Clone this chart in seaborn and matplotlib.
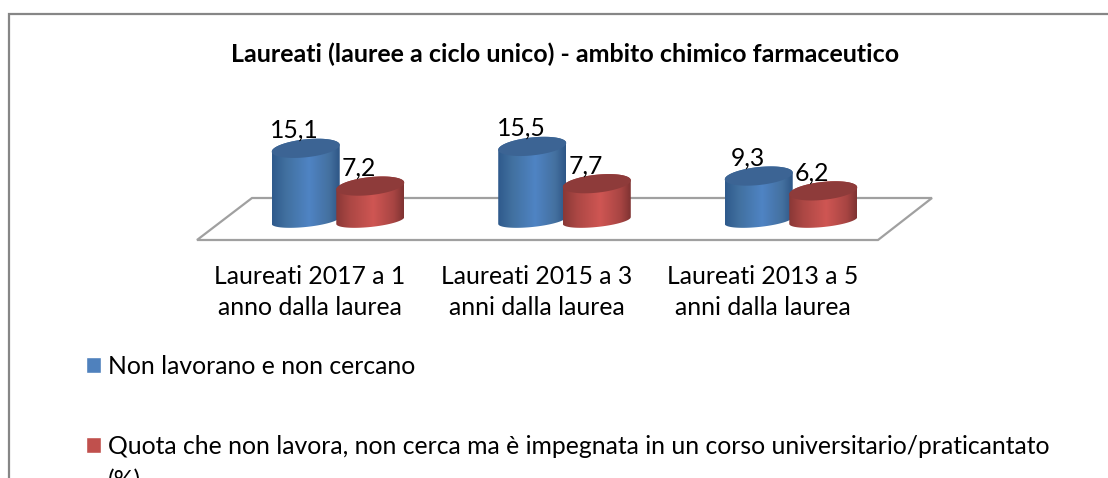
import numpy as np
import pandas as pd
import seaborn as sns
import matplotlib
matplotlib.use('Agg')
import matplotlib.pyplot as plt
from matplotlib.colors import LinearSegmentedColormap
from matplotlib.lines import Line2D
from matplotlib.patches import Polygon

title = 'Laureati (lauree a ciclo unico) - ambito chimico farmaceutico'
categories = ['Laureati 2017 a 1\nanno dalla laurea',
              'Laureati 2015 a 3\nanni dalla laurea',
              'Laureati 2013 a 5\nanni dalla laurea']
series_names = ['Non lavorano e non cercano',
                'Quota che non lavora, non cerca ma è impegnata in un corso universitario/praticantato']
non_lavorano = [15.1, 15.5, 9.3]
quota_corso = [7.2, 7.7, 6.2]
legend_colors = ['#4f81bd', '#c0504d']

W, H = 1108, 478
PX_PER_CAT = 226.5
PX_PER_UNIT = 4.78
ZERO_X, ZERO_Y = 338, 220.5
FONT = 17.8

sns.set_theme(style='white')
plt.rcParams['font.family'] = ['Lato', 'DejaVu Sans']

df = pd.DataFrame({
    'categoria': categories * 2,
    'serie': [series_names[0]] * 3 + [series_names[1]] * 3,
    'valore': non_lavorano + quota_corso,
})


def fx(px):
    return px / W


def fy(py):
    return 1 - py / H


fig = plt.figure(figsize=(W / 100, H / 100), dpi=100)
# axes box is chosen so that value 0 and the categories land where the chart has them
left, right, top, bottom = 185, 950, 120, 245
ax = fig.add_axes([fx(left), fy(bottom), (right - left) / W, (bottom - top) / H])
sns.barplot(data=df, x='categoria', y='valore', hue='serie', saturation=1,
            palette=legend_colors, width=0.57, gap=0, ax=ax, errorbar=None)

xlim = ((left - ZERO_X) / PX_PER_CAT, (right - ZERO_X) / PX_PER_CAT)
ylim = ((ZERO_Y - bottom) / PX_PER_UNIT, (ZERO_Y - top) / PX_PER_UNIT)

# outer chart frame (only top and left are inside the crop) and floor of the 3d plot
fig.add_artist(Line2D([fx(9), fx(9), 1], [0, fy(14), fy(14)], transform=fig.transFigure,
                      color='#868686', lw=1.6, zorder=-2, solid_joinstyle='miter'))
floor = [(197, 240), (878, 240), (932, 198), (252, 198)]
fig.add_artist(Polygon([(fx(a), fy(b)) for a, b in floor], transform=fig.transFigure,
                       fill=False, ec='#a0a0a0', lw=1.6, zorder=-1))

shades = [
    (['#2f5a8c', '#41709f', '#4f84c4', '#44709f', '#2e5686'], '#3c6494'),
    (['#8a3836', '#ab4744', '#cf5653', '#a84543', '#7f3332'], '#8e3b3a'),
]
ry = 9 / PX_PER_UNIT
ry_base = 6.5 / PX_PER_UNIT
tilt = 3.4 / PX_PER_UNIT
arc = np.linspace(0, 2 * np.pi, 80)

for container, (body_cols, top_col) in zip(ax.containers, shades):
    cmap = LinearSegmentedColormap.from_list('cyl', [(0, body_cols[0]), (0.2, body_cols[1]),
                                                     (0.55, body_cols[2]), (0.85, body_cols[3]),
                                                     (1, body_cols[4])])
    for bar in container:
        bar.set_visible(False)
        cx = bar.get_x() + bar.get_width() / 2
        h = bar.get_height()
        rx = 34 / PX_PER_CAT

        # body: lower half of base ellipse, then back along the upper half of the top one
        t_low = np.linspace(np.pi, 2 * np.pi, 40)
        t_up = np.linspace(0, np.pi, 40)
        xs = np.r_[cx + rx * np.cos(t_low), cx + rx * np.cos(t_up)]
        ys = np.r_[ry_base * np.sin(t_low) + tilt * np.cos(t_low),
                   h + ry * np.sin(t_up) + tilt * np.cos(t_up)]
        body = Polygon(np.c_[xs, ys], closed=True, fc='none', ec='none',
                       transform=ax.transData, zorder=3)
        ax.add_patch(body)
        im = ax.imshow(np.linspace(0, 1, 128)[None, :], cmap=cmap, aspect='auto',
                       extent=[cx - rx, cx + rx, -5, h + 5], zorder=3)
        im.set_clip_path(body)

        cap_x = cx + rx * np.cos(arc)
        cap_y = h + ry * np.sin(arc) + tilt * np.cos(arc)
        ax.add_patch(Polygon(np.c_[cap_x, cap_y], closed=True, fc=top_col, ec='none', zorder=3))

        lab = f'{h:.1f}'.replace('.', ',')
        ax.annotate(lab, xy=(cx, h), xytext=(-11 * 0.72, 18 * 0.72), textcoords='offset points',
                    ha='center', va='center', fontsize=FONT, color='black',
                    annotation_clip=False, zorder=5)

ax.set_xlim(*xlim)
ax.set_ylim(*ylim)
ax.set_xticks(np.arange(len(categories)) - 28 / PX_PER_CAT)
ax.set_xticklabels(categories, fontsize=FONT, linespacing=1.42, color='black')
ax.tick_params(axis='x', length=0, pad=14.5)
ax.set_yticks([])
ax.set_xlabel('')
ax.set_ylabel('')
ax.patch.set_visible(False)
sns.despine(ax=ax, left=True, bottom=True)

sns.move_legend(ax, 'upper left', bbox_to_anchor=(fx(86), fy(355)),
                bbox_transform=fig.transFigure, title=None, frameon=False, fontsize=FONT,
                handlelength=0.62, handleheight=0.62, handletextpad=0.28,
                labelspacing=2.31, borderpad=0, borderaxespad=0)
for txt in ax.get_legend().get_texts():
    txt.set_color('black')
fig.text(fx(108), fy(481), '(%)', fontsize=FONT, ha='left', va='center', color='black')

fig.suptitle(title, x=fx(565.5), y=fy(54), fontsize=18, fontweight='bold', va='center', color='black')

fig.savefig('out.png', dpi=100, facecolor='white')
